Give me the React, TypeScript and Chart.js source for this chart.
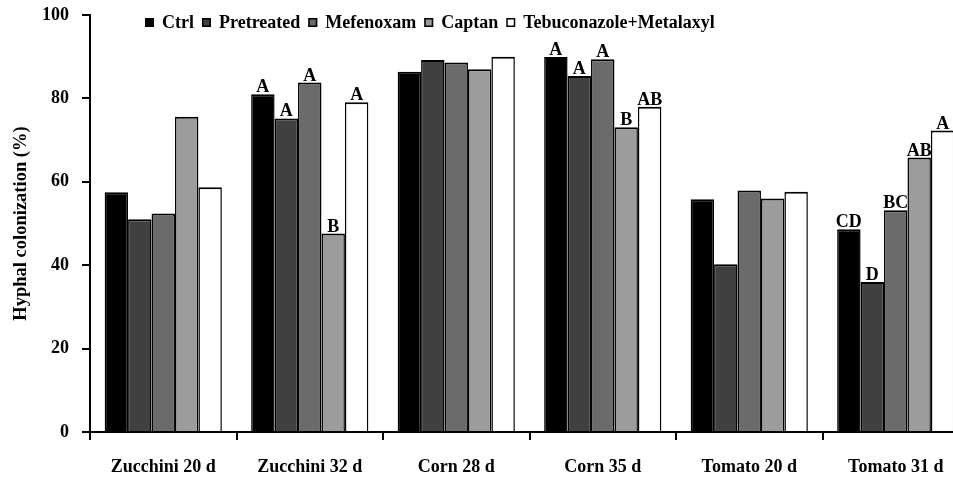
import React, { useEffect, useRef } from "react";
import { Chart, registerables } from "chart.js";

Chart.register(...registerables);

const categories = ["Zucchini 20 d", "Zucchini 32 d", "Corn 28 d", "Corn 35 d", "Tomato 20 d", "Tomato 31 d"];
const seriesNames = ["Ctrl", "Pretreated", "Mefenoxam", "Captan", "Tebuconazole+Metalaxyl"];

const ctrl = [57.5, 81.0, 86.4, 89.9, 55.8, 48.6];
const pretreated = [51.0, 75.2, 89.2, 85.4, 40.2, 36.0];
const mefenoxam = [52.4, 83.8, 88.6, 89.4, 57.9, 53.2];
const captan = [75.6, 47.6, 87.0, 73.1, 56.0, 65.8];
const tebuMetalaxyl = [58.7, 79.1, 90.0, 78.0, 57.6, 72.3];

const ctrlLetters = ["", "A", "", "A", "", "CD"];
const pretreatedLetters = ["", "A", "", "A", "", "D"];
const mefenoxamLetters = ["", "A", "", "A", "", "BC"];
const captanLetters = ["", "B", "", "B", "", "AB"];
const tebuLetters = ["", "A", "", "AB", "", "A"];

const yTickValues = [0, 20, 40, 60, 80, 100];
const yTitle = "Hyphal colonization (%)";

const FONT = "\"Liberation Serif\", Tinos, \"Times New Roman\", Times, \"DejaVu Serif\", serif";
const colors = ["#000000", "#404040", "#6b6b6b", "#9c9c9c", "#ffffff"];
const seriesValues = [ctrl, pretreated, mefenoxam, captan, tebuMetalaxyl];
const seriesLetters = [ctrlLetters, pretreatedLetters, mefenoxamLetters, captanLetters, tebuLetters];

const lettersPlugin = {
  id: "letters",
  afterDatasetsDraw(chart: any) {
    const ctx = chart.ctx;
    ctx.save();
    ctx.font = `bold 18px ${FONT}`;
    ctx.textAlign = "center";
    ctx.textBaseline = "alphabetic";
    ctx.fillStyle = "#000";
    chart.data.datasets.forEach((_ds: any, i: number) => {
      const meta = chart.getDatasetMeta(i);
      const letters = seriesLetters[i];
      meta.data.forEach((bar: any, j: number) => {
        if (letters[j]) ctx.fillText(letters[j], bar.x, bar.y - 2);
      });
    });
    ctx.restore();
  },
};

const legendPlugin = {
  id: "customLegend",
  afterDraw(chart: any) {
    const ctx = chart.ctx;
    ctx.save();
    ctx.font = `bold 18px ${FONT}`;
    ctx.textBaseline = "alphabetic";
    ctx.textAlign = "left";
    let x = 145;
    const baseline = 28;
    const box = 9;
    chart.data.datasets.forEach((ds: any) => {
      ctx.fillStyle = ds.backgroundColor;
      ctx.fillRect(x, baseline - 10, box, box);
      ctx.strokeStyle = "#000";
      ctx.lineWidth = 1.5;
      ctx.strokeRect(x + 0.75, baseline - 10 + 0.75, box - 1.5, box - 1.5);
      x += box + 8;
      ctx.fillStyle = "#000";
      ctx.fillText(ds.label, x, baseline);
      x += ctx.measureText(ds.label).width + 8;
    });
    ctx.restore();
  },
};

export default function App() {
  const ref = useRef<HTMLCanvasElement | null>(null);
  useEffect(() => {
    if (!ref.current) return;
    Chart.defaults.font.family = FONT;
    const chart = new Chart(ref.current, {
      type: "bar",
      data: {
        labels: categories,
        datasets: seriesNames.map((name, i) => ({
          label: name,
          data: seriesValues[i],
          backgroundColor: colors[i],
          borderColor: "#000",
          borderWidth: { top: 2, left: 1.5, right: 1.5, bottom: 0 },
          borderSkipped: false,
          categoryPercentage: 0.8,
          barPercentage: 1.0,
        })),
      },
      options: {
        responsive: false,
        maintainAspectRatio: false,
        animation: false,
        devicePixelRatio: 1,
        layout: { padding: { top: 15, right: 21, left: 0, bottom: 0 } },
        plugins: {
          legend: { display: false },
          title: { display: false },
          tooltip: { enabled: false },
        },
        scales: {
          x: {
            grid: {
              display: true,
              drawOnChartArea: false,
              drawTicks: true,
              tickLength: 8,
              color: "#000",
              lineWidth: 2,
              offset: true,
            },
            border: { display: true, color: "#000", width: 2 },
            ticks: {
              color: "#000",
              font: { family: FONT, size: 18, weight: "bold" },
              padding: 17,
              maxRotation: 0,
              autoSkip: false,
            },
            afterFit: (s: any) => {
              s.height = 47;
              s.paddingLeft = 0;
              s.paddingRight = 0;
            },
          },
          y: {
            min: 0,
            max: 100,
            afterBuildTicks: (s: any) => {
              s.ticks = yTickValues.map((v) => ({ value: v }));
            },
            grid: {
              display: true,
              drawOnChartArea: false,
              drawTicks: true,
              tickLength: 8,
              color: "#000",
              lineWidth: 2,
            },
            border: { display: true, color: "#000", width: 2 },
            ticks: {
              color: "#000",
              font: { family: FONT, size: 18, weight: "bold" },
              padding: 13,
            },
            title: {
              display: true,
              text: yTitle,
              color: "#000",
              font: { family: FONT, size: 18.5, weight: "bold" },
              padding: { top: 10, bottom: 0 },
            },
            afterFit: (s: any) => {
              s.width = 90;
              s.paddingTop = 0;
              s.paddingBottom = 0;
            },
          },
        },
      },
      plugins: [lettersPlugin, legendPlugin],
    });
    return () => chart.destroy();
  }, []);

  return (
    <div
      style={{
        position: "fixed",
        left: 0,
        top: 0,
        width: 953,
        height: 479,
        overflow: "hidden",
        background: "#fff",
      }}
    >
      <canvas ref={ref} width={990} height={479} style={{ display: "block", width: "990px", height: "479px" }} />
    </div>
  );
}
